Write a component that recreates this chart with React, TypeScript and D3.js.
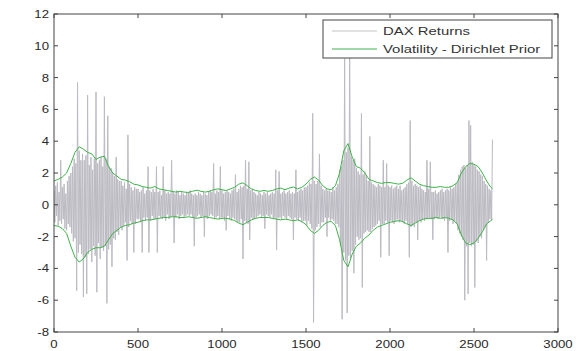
import React from 'react';
import * as d3 from 'd3';

// DAX daily returns, sampled every 5 trading days (day index = i * 5)
const returns: number[] = [
  0.9, -1.1, 1.2, -0.7, 1.4, -1.3, 0.8, -1.0, 2.8, -1.2, 1.1, -0.9, 1.3, -1.5, 0.7, -1.6, 1.5, -1.2, 1.8, -1.4,
  2.0, -1.8, 2.4, -2.3, 2.9, -2.1, 2.6, -5.4, 7.7, -3.0, 3.4, -2.5, 2.8, -3.1, 3.2, -5.8, 2.8, -3.3, 3.1, -5.6,
  6.9, -3.1, 2.5, -2.8, 3.0, -3.6, 2.2, -2.6, 2.9, -3.2, 7.1, -5.5, 2.6, -2.4, 2.8, -3.4, 3.0, -2.7, 2.4, -2.9,
  6.8, -2.6, 2.9, -6.2, 5.6, -2.8, 2.4, -2.5, 2.3, -3.9, 2.0, -2.1, 1.8, -2.2, 3.0, -1.7, 1.6, -1.9, 1.5, -1.4,
  1.5, -1.6, 1.2, -1.3, 1.4, -1.1, 1.0, -3.5, 4.4, -1.4, 1.3, -1.0, 1.1, -1.2, 0.9, -3.0, 1.1, -1.2, 1.0, -0.9,
  1.0, -0.9, 0.8, -1.1, 0.9, -3.0, 1.1, -0.8, 0.7, -1.0, 0.9, -0.8, 2.4, -3.0, 0.9, -1.0, 0.8, -0.7, 1.0, -0.9,
  0.8, -0.9, 2.4, -3.0, 0.8, -0.7, 0.9, -0.8, 0.6, -0.9, 2.4, -0.8, 0.9, -1.0, 0.7, -0.6, 0.8, -0.9, 0.7, -0.8,
  2.8, -0.7, 0.8, -2.4, 0.7, -0.8, 0.9, -0.6, 0.8, -0.9, 0.6, -0.7, 0.8, -0.6, 0.7, -0.8, 0.6, -0.7, 0.8, -0.6,
  0.8, -0.7, 0.9, -0.6, 0.7, -0.8, 0.6, -2.6, 0.7, -0.8, 0.6, -0.7, 0.8, -0.6, 0.7, -0.8, 0.6, -0.7, 0.8, -2.0,
  0.7, -0.8, 0.6, -0.9, 0.8, -0.7, 0.9, -0.6, 0.8, -0.7, 2.6, -0.9, 0.7, -0.8, 0.9, -0.7, 0.8, -0.9, 2.4, -0.8,
  0.9, -0.8, 0.7, -1.0, 0.8, -1.6, 0.9, -0.7, 0.8, -0.9, 0.7, -1.0, 0.9, -0.8, 1.0, -0.9, 1.9, -1.0, 0.8, -1.1,
  1.0, -1.1, 1.2, -0.9, 1.1, -3.4, 1.2, -1.0, 2.8, -1.1, 1.0, -1.2, 2.7, -2.2, 0.9, -0.8, 1.0, -0.9, 0.8, -0.9,
  0.7, -0.8, 0.6, -0.7, 0.8, -0.6, 0.7, -0.8, 0.6, -0.7, 0.8, -1.5, 0.7, -0.6, 0.8, -0.7, 0.6, -0.8, 0.7, -0.6,
  0.8, -0.9, 0.7, -0.8, 2.2, -2.85, 0.9, -0.8, 2.1, -0.8, 0.7, -0.9, 0.8, -0.7, 0.9, -0.8, 0.7, -0.9, 0.8, -0.7,
  0.9, -0.8, 0.7, -0.9, 0.8, -2.2, 0.7, -0.8, 2.2, -0.9, 0.8, -1.0, 0.9, -0.8, 1.0, -1.1, 0.9, -1.0, 1.1, -1.0,
  1.1, -1.3, 1.2, -1.0, 1.4, -1.2, 1.3, -1.5, 5.75, -7.4, 1.5, -1.6, 1.3, -1.4, 1.5, -1.2, 3.2, -1.4, 1.2, -1.1,
  1.0, -1.1, 0.9, -0.8, 1.0, -2.0, 0.9, -0.8, 0.9, -1.0, 0.8, -0.9, 1.1, -1.0, 0.9, -1.2, 1.1, -1.2, 1.3, -1.4,
  2.2, -2.6, 2.4, -7.2, 2.8, -3.0, 9.2, -3.5, 3.3, -6.8, 3.6, -3.2, 10.5, -3.4, 3.0, -2.9, 2.8, -4.3, 2.9, -2.5,
  2.3, -2.0, 2.1, -2.2, 1.9, -2.1, 5.75, -5.2, 1.9, -1.8, 2.1, -1.7, 1.8, -1.6, 1.5, -1.7, 4.3, -1.7, 1.4, -1.5,
  1.3, -1.4, 1.2, -1.3, 1.1, -1.2, 1.3, -1.0, 1.2, -3.3, 1.1, -1.2, 2.8, -1.2, 1.1, -1.0, 2.6, -1.1, 1.2, -3.2,
  1.1, -1.0, 1.2, -1.1, 1.0, -1.2, 1.1, -1.0, 1.2, -0.9, 1.0, -1.1, 1.2, -1.0, 0.9, -1.1, 1.0, -1.2, 1.1, -1.0,
  1.3, -1.2, 1.4, -3.3, 5.3, -1.4, 1.5, -1.3, 1.2, -1.4, 1.3, -1.1, 1.2, -2.2, 1.1, -1.0, 1.2, -1.1, 1.0, -0.9,
  0.9, -1.0, 0.8, -0.9, 2.8, -0.9, 1.0, -0.8, 2.7, -0.9, 0.8, -2.2, 0.8, -0.9, 0.9, -0.8, 0.7, -0.9, 0.8, -0.8,
  0.9, -0.8, 1.0, -0.9, 0.8, -1.0, 0.9, -0.8, 1.0, -3.0, 0.9, -1.0, 1.1, -0.9, 1.0, -1.2, 1.1, -1.0, 1.3, -1.2,
  1.4, -1.6, 1.9, -1.8, 2.2, -2.0, 2.4, -2.2, 2.5, -6.0, 2.3, -2.6, 2.5, -5.6, 5.3, -2.4, 5.0, -2.6, 2.7, -2.5,
  2.5, -5.2, 2.4, -2.3, 2.2, -2.4, 2.1, -2.0, 1.9, -2.1, 1.8, -1.6, 1.5, -1.4, 1.3, -3.5, 1.2, -1.1, 1.0, -0.9,
  0.9, -1.0, 4.1,
];

// Volatility band (Dirichlet prior), every 25 days from 0 to 2600, then 2610
const volUpper: number[] = [
  1.5, 1.6, 1.75, 2.0, 2.6, 3.3, 3.65, 3.5, 3.3, 3.2,
  2.85, 3.0, 3.05, 2.4, 2.0, 1.8, 1.6, 1.55, 1.45, 1.3,
  1.25, 1.15, 1.1, 1.05, 1.15, 1.0, 0.95, 0.9, 0.85, 0.8,
  0.85, 0.8, 0.78, 0.85, 0.92, 0.85, 0.8, 0.85, 0.95, 1.0,
  0.95, 0.9, 1.0, 1.1, 1.3, 1.38, 1.2, 1.0, 0.9, 0.85,
  0.9, 0.85, 0.9, 1.0, 1.05, 0.95, 1.05, 1.12, 1.0, 1.1,
  1.3, 1.6, 1.75, 1.55, 1.2, 1.0, 0.95, 1.2, 2.0, 3.4,
  3.85, 3.0, 2.4, 2.3, 2.0, 1.6, 1.5, 1.4, 1.35, 1.4,
  1.4, 1.35, 1.3, 1.35, 1.55, 1.7, 1.5, 1.3, 1.2, 1.15,
  1.1, 1.1, 1.15, 1.1, 1.1, 1.2, 1.4, 2.0, 2.4, 2.6,
  2.55, 2.4, 2.0, 1.5, 1.1, 1.0,
];
const volLower: number[] = [
  -1.3, -1.35, -1.5, -1.8, -2.6, -3.3, -3.6, -3.4, -3.0, -2.8,
  -2.7, -2.7, -2.6, -2.2, -1.8, -1.6, -1.4, -1.3, -1.25, -1.15,
  -1.1, -1.0, -0.95, -0.95, -0.9, -0.85, -0.8, -0.8, -0.75, -0.75,
  -0.8, -0.8, -0.75, -0.8, -0.85, -0.8, -0.75, -0.8, -0.85, -0.9,
  -0.85, -0.85, -0.9, -1.0, -1.15, -1.25, -1.1, -0.95, -0.85, -0.8,
  -0.8, -0.8, -0.85, -0.9, -0.95, -0.9, -0.95, -1.0, -0.95, -1.05,
  -1.25, -1.6, -1.8, -1.6, -1.3, -1.1, -1.05, -1.3, -2.2, -3.5,
  -3.9, -3.1, -2.6, -2.4, -2.1, -1.9, -1.6, -1.4, -1.3, -1.2,
  -1.1, -1.05, -1.0, -1.05, -1.2, -1.3, -1.15, -1.0, -0.9, -0.85,
  -0.85, -0.8, -0.85, -0.8, -0.85, -0.95, -1.2, -1.9, -2.4, -2.5,
  -2.4, -2.1, -1.7, -1.2, -1.0, -0.9,
];

const xTicks = [0, 500, 1000, 1500, 2000, 2500, 3000];
const yTicks = [-8, -6, -4, -2, 0, 2, 4, 6, 8, 10, 12];
const legendLabels = ['DAX Returns', 'Volatility - Dirichlet Prior'];

const W = 585;
const H = 351;
const GRAY = '#bcbac2';
const GREEN = '#3fb24a';
const AXIS = '#444';
const FONT = '"Liberation Sans", Arial, Helvetica, sans-serif';

export default function App() {
  const x = d3.scaleLinear().domain([0, 3000]).range([54, 558]);
  const y = d3.scaleLinear().domain([-8, 12]).range([332, 14]);
  const retDays = returns.map((_, i) => i * 5);
  const volDays = d3.range(0, 2601, 25).concat([2610]);

  const line = d3
    .line<[number, number]>()
    .x((d) => x(d[0]))
    .y((d) => y(d[1]));

  const retPath = line(returns.map((v, i) => [retDays[i], v]) as [number, number][]) || '';
  const upPath = line(volUpper.map((v, i) => [volDays[i], v]) as [number, number][]) || '';
  const loPath = line(volLower.map((v, i) => [volDays[i], v]) as [number, number][]) || '';

  const [x0, x1] = x.range();
  const [y0, y1] = y.range(); // y0 bottom, y1 top
  const tick = 4;

  const lx = 323;
  const ly = 20;
  const lw = 229;
  const lh = 38;

  return (
    <svg
      width={W}
      height={H}
      style={{ position: 'absolute', left: 0, top: 0, background: '#fff' }}
      fontFamily={FONT}
    >
      <rect x={0} y={0} width={W} height={H} fill="#fff" />
      <defs>
        <clipPath id="plotClip">
          <rect x={x0} y={y1} width={x1 - x0} height={y0 - y1} />
        </clipPath>
      </defs>
      <g clipPath="url(#plotClip)">
        <path d={retPath} fill="none" stroke={GRAY} strokeWidth={1} />
        <path d={upPath} fill="none" stroke={GREEN} strokeWidth={1} />
        <path d={loPath} fill="none" stroke={GREEN} strokeWidth={1} />
      </g>

      {/* axes box */}
      <rect x={x0} y={y1} width={x1 - x0} height={y0 - y1} fill="none" stroke={AXIS} strokeWidth={1} />
      {xTicks.map((t) => (
        <g key={'x' + t}>
          <line x1={x(t)} x2={x(t)} y1={y0} y2={y0 - tick} stroke={AXIS} />
          <line x1={x(t)} x2={x(t)} y1={y1} y2={y1 + tick} stroke={AXIS} />
          <text
            transform={`translate(${x(t)},${y0 + 16}) scale(1.2,1)`}
            textAnchor="middle"
            fontSize={11}
            fill="#2a2a2a"
          >
            {t}
          </text>
        </g>
      ))}
      {yTicks.map((t) => (
        <g key={'y' + t}>
          <line x1={x0} x2={x0 + tick} y1={y(t)} y2={y(t)} stroke={AXIS} />
          <line x1={x1} x2={x1 - tick} y1={y(t)} y2={y(t)} stroke={AXIS} />
          <text
            transform={`translate(${x0 - 5},${y(t) + 4}) scale(1.2,1)`}
            textAnchor="end"
            fontSize={11}
            fill="#2a2a2a"
          >
            {t}
          </text>
        </g>
      ))}

      {/* legend */}
      <rect x={lx} y={ly} width={lw} height={lh} fill="#fff" stroke={AXIS} strokeWidth={1} />
      {legendLabels.map((lab, i) => {
        const cy = ly + 11 + i * 18;
        return (
          <g key={lab}>
            <line x1={lx + 9} x2={lx + 54} y1={cy} y2={cy} stroke={i === 0 ? '#c4c4c8' : GREEN} strokeWidth={1} />
            <text
              transform={`translate(${lx + 60},${cy + 4}) scale(1.42,1)`}
              fontSize={10.5}
              fill="#333"
            >
              {lab}
            </text>
          </g>
        );
      })}
    </svg>
  );
}
